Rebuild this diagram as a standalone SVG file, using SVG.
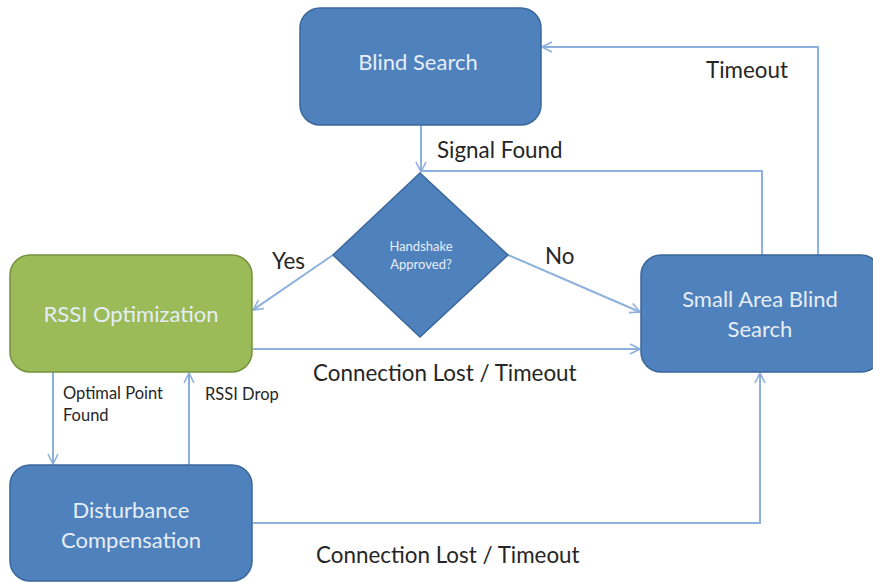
<svg xmlns="http://www.w3.org/2000/svg" width="873" height="583" viewBox="0 0 873 583">
  <style>
    .box { fill: #4F81BD; stroke: #3A679C; stroke-width: 1.5; }
    .green { fill: #9BBB59; stroke: #76923C; stroke-width: 1.5; }
    .nodetext { font-family: Lato, "Liberation Sans", sans-serif; fill: #E6EDF7; font-size: 22px; text-anchor: middle; }
    .small { font-family: Lato, "Liberation Sans", sans-serif; fill: #E6EDF7; font-size: 13px; text-anchor: middle; }
    .label { font-family: Lato, "Liberation Sans", sans-serif; fill: #262626; font-size: 22.4px; }
    .slabel { font-family: Lato, "Liberation Sans", sans-serif; fill: #262626; font-size: 16.5px; }
    .conn { fill: none; stroke: #8DB0DD; stroke-width: 2; marker-end: url(#arrow); }
    .line { fill: none; stroke: #8DB0DD; stroke-width: 2; }
  </style>
  <defs>
    <marker id="arrow" viewBox="0 0 12 12" refX="11" refY="6" markerWidth="12" markerHeight="12" markerUnits="userSpaceOnUse" orient="auto">
      <path d="M1,1 L11,6 L1,11" fill="none" stroke="#8DB0DD" stroke-width="1.6"/>
    </marker>
  </defs>
  <rect width="873" height="583" fill="#FFFFFF"/>

  <g id="connectors">
    <!-- Blind Search to decision -->
    <path class="conn" d="M421,125 L421,172"/>
    <!-- Small Area Blind Search back to decision -->
    <path class="line" d="M762,255 L762,171 L421,171"/>
    <!-- Timeout back to Blind Search -->
    <path class="conn" d="M818,255 L818,47 L542,47"/>
    <!-- Yes -->
    <path class="conn" d="M333,255 L253,310"/>
    <!-- No -->
    <path class="conn" d="M508,255 L640,312"/>
    <!-- RSSI Optimization lost connection -->
    <path class="conn" d="M253,349 L640,349"/>
    <!-- Optimal point found -->
    <path class="conn" d="M53,372 L53,464"/>
    <!-- RSSI drop -->
    <path class="conn" d="M189,465 L189,373"/>
    <!-- Disturbance Compensation lost connection -->
    <path class="conn" d="M253,523 L760,523 L760,373"/>
  </g>

  <g id="blind-search">
    <rect class="box" x="300" y="8" width="241" height="117" rx="20"/>
    <text class="nodetext" x="418" y="70">Blind Search</text>
  </g>

  <g id="handshake">
    <polygon class="box" points="420,173 508,255 420,337 333,255"/>
    <text class="small" x="421" y="251">Handshake</text>
    <text class="small" x="421" y="269">Approved?</text>
  </g>

  <g id="rssi-optimization">
    <rect class="green" x="10" y="255" width="242" height="117" rx="20"/>
    <text class="nodetext" x="131" y="322">RSSI Optimization</text>
  </g>

  <g id="small-area">
    <rect class="box" x="641" y="255" width="240" height="117" rx="20"/>
    <text class="nodetext" x="760" y="307">Small Area Blind</text>
    <text class="nodetext" x="760" y="337">Search</text>
  </g>

  <g id="disturbance">
    <rect class="box" x="10" y="465" width="242" height="116" rx="20"/>
    <text class="nodetext" x="131" y="518">Disturbance</text>
    <text class="nodetext" x="131" y="548">Compensation</text>
  </g>

  <g id="labels">
    <text class="label" x="437" y="158">Signal Found</text>
    <text class="label" x="706" y="78">Timeout</text>
    <text class="label" x="272" y="269">Yes</text>
    <text class="label" x="545" y="264">No</text>
    <text class="label" x="313" y="381">Connection Lost / Timeout</text>
    <text class="label" x="316" y="563">Connection Lost / Timeout</text>
    <text class="slabel" x="63" y="399">Optimal Point</text>
    <text class="slabel" x="63" y="421">Found</text>
    <text class="slabel" x="205" y="400">RSSI Drop</text>
  </g>
</svg>
